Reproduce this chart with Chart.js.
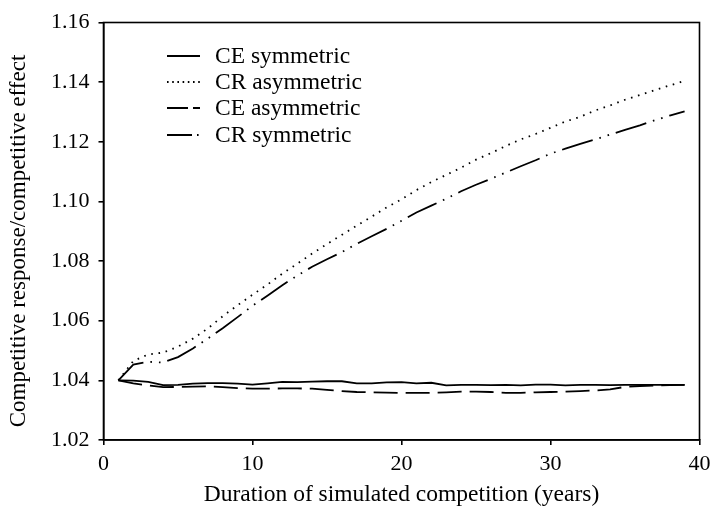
<!DOCTYPE html>
<html>
<head>
<meta charset="utf-8">
<script src="https://cdn.jsdelivr.net/npm/chart.js@4.4.1/dist/chart.umd.min.js"></script>
<style>
  html, body { margin: 0; padding: 0; background: #fff; }
  #wrap { width: 711px; height: 510px; position: relative; }
</style>
</head>
<body>
<div id="wrap"><canvas id="c" width="711" height="510"></canvas></div>
<script>
// ---- data ----
const years = [1,2,3,4,5,6,7,8,9,10,11,12,13,14,15,16,17,18,19,20,21,22,23,24,25,26,27,28,29,30,31,32,33,34,35,36,37,38,39];
const ceSymmetric = [1.0400,1.0399,1.0395,1.0384,1.0385,1.0389,1.0391,1.0391,1.0389,1.0386,1.0390,1.0395,1.0394,1.0396,1.0397,1.0397,1.0390,1.0390,1.0393,1.0394,1.0390,1.0392,1.0383,1.0385,1.0385,1.0384,1.0385,1.0383,1.0386,1.0386,1.0383,1.0385,1.0385,1.0384,1.0385,1.0385,1.0385,1.0385,1.0385];
const crAsymmetric = [1.0400,1.0465,1.0487,1.0493,1.0513,1.0540,1.0574,1.0615,1.0652,1.0687,1.0721,1.0758,1.0791,1.0825,1.0857,1.0888,1.0919,1.0949,1.0980,1.1007,1.1038,1.1065,1.1089,1.1113,1.1140,1.1162,1.1186,1.1208,1.1226,1.1247,1.1268,1.1284,1.1305,1.1322,1.1341,1.1357,1.1373,1.1389,1.1404];
const ceAsymmetric = [1.0400,1.0390,1.0383,1.0377,1.0378,1.0379,1.0380,1.0377,1.0374,1.0372,1.0372,1.0373,1.0373,1.0372,1.0368,1.0364,1.0361,1.0360,1.0359,1.0358,1.0358,1.0358,1.0360,1.0362,1.0362,1.0361,1.0358,1.0358,1.0360,1.0361,1.0362,1.0364,1.0366,1.0370,1.0378,1.0381,1.0383,1.0384,1.0385];
const crSymmetric = [1.0400,1.0453,1.0462,1.0460,1.0478,1.0507,1.0540,1.0575,1.0612,1.0650,1.0684,1.0719,1.0751,1.0781,1.0806,1.0830,1.0858,1.0883,1.0908,1.0935,1.0963,1.0986,1.1009,1.1034,1.1056,1.1076,1.1097,1.1118,1.1138,1.1160,1.1177,1.1193,1.1208,1.1224,1.1240,1.1255,1.1272,1.1288,1.1302];
const seriesLabels = ['CE symmetric','CR asymmetric','CE asymmetric','CR symmetric'];
const xTicks = [0,10,20,30,40];
const yTicks = [1.02,1.04,1.06,1.08,1.10,1.12,1.14,1.16];
const xTitle = 'Duration of simulated competition (years)';
const yTitle = 'Competitive response/competitive effect';

const FONT = "'Liberation Serif', 'Times New Roman', serif";
const pts = arr => years.map((x, i) => ({x: x, y: arr[i]}));

const styles = [
  {dash: [], legendDash: []},
  {dash: [1.6, 5.7], legendDash: [1.6, 3.6]},
  {dash: [24, 8], legendDash: [21, 5, 7, 10]},
  {dash: [32, 7, 1.6, 7, 1.6, 7], legendDash: [25, 5, 1.6, 10]}
];
const seriesData = [ceSymmetric, crAsymmetric, ceAsymmetric, crSymmetric];

const datasets = seriesData.map((arr, i) => ({
  label: seriesLabels[i],
  data: pts(arr),
  borderColor: '#000',
  borderWidth: 1.8,
  borderDash: styles[i].dash,
  pointRadius: 0,
  fill: false,
  tension: 0
}));

const framePlugin = {
  id: 'frame',
  afterDraw(chart) {
    const {ctx, chartArea: a} = chart;
    ctx.save();
    ctx.strokeStyle = '#000';
    ctx.lineWidth = 1.6;
    ctx.setLineDash([]);
    ctx.strokeRect(a.left, a.top, a.right - a.left, a.bottom - a.top);
    // y-axis title
    ctx.translate(19, 241);
    ctx.rotate(-Math.PI / 2);
    ctx.font = "23px " + FONT;
    ctx.fillStyle = '#000';
    ctx.textAlign = 'center';
    ctx.textBaseline = 'middle';
    ctx.fillText(yTitle, 0, 0);
    ctx.restore();
  }
};

const legendPlugin = {
  id: 'inlegend',
  afterDatasetsDraw(chart) {
    const {ctx} = chart;
    const x0 = 167, x1 = 200, tx = 215;
    const rows = [56, 82, 108, 135];
    ctx.save();
    ctx.font = "23.5px " + FONT;
    ctx.fillStyle = '#000';
    ctx.textBaseline = 'middle';
    ctx.textAlign = 'left';
    chart.data.datasets.forEach((ds, i) => {
      const y = rows[i];
      ctx.beginPath();
      ctx.strokeStyle = '#000';
      ctx.lineWidth = 1.8;
      ctx.setLineDash(styles[i].legendDash);
      ctx.moveTo(x0, y);
      ctx.lineTo(x1, y);
      ctx.stroke();
      ctx.setLineDash([]);
      ctx.fillText(ds.label, tx, y + 1);
    });
    ctx.restore();
  }
};

new Chart(document.getElementById('c'), {
  type: 'line',
  data: { datasets },
  options: {
    responsive: false,
    animation: false,
    devicePixelRatio: 1,
    layout: { padding: { left: 0, right: 11.5, top: 22.5, bottom: 0 } },
    plugins: { legend: { display: false }, tooltip: { enabled: false } },
    scales: {
      x: {
        type: 'linear',
        min: 0, max: 40,
        afterBuildTicks: s => { s.ticks = xTicks.map(v => ({value: v})); },
        afterFit: s => { s.height = 70; s.paddingLeft = 0; s.paddingRight = 0; },
        ticks: { color: '#000', font: { family: FONT, size: 22 }, padding: 6, maxRotation: 0 },
        grid: { drawOnChartArea: false, drawTicks: true, tickLength: 5, color: '#000', lineWidth: 1.6 },
        border: { display: true, color: '#000', width: 1.6 },
        title: { display: true, text: xTitle, color: '#000', font: { family: FONT, size: 23.5 }, padding: { top: 0, bottom: 1 } }
      },
      y: {
        type: 'linear',
        min: 1.02, max: 1.16,
        afterBuildTicks: s => { s.ticks = yTicks.map(v => ({value: v})); },
        afterFit: s => { s.width = 103.5; s.paddingTop = 0; s.paddingBottom = 0; },
        ticks: { color: '#000', font: { family: FONT, size: 22 }, padding: 9, callback: v => Number(v).toFixed(2) },
        grid: { drawOnChartArea: false, drawTicks: true, tickLength: 5, color: '#000', lineWidth: 1.6 },
        border: { display: true, color: '#000', width: 1.6 },
        title: { display: false }
      }
    }
  },
  plugins: [framePlugin, legendPlugin]
});
</script>
</body>
</html>
